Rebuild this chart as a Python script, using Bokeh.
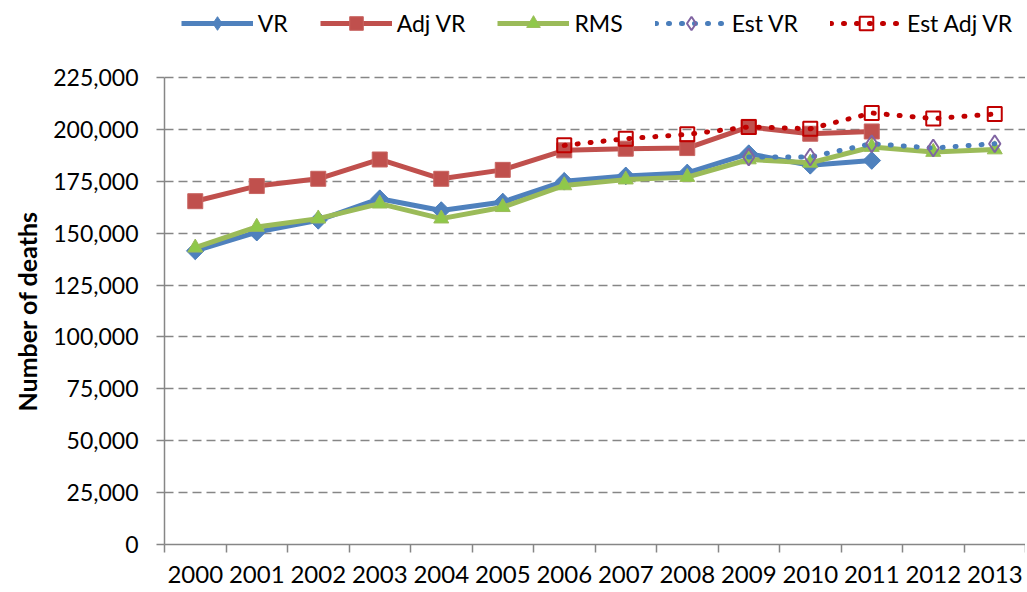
import math
from bokeh.plotting import figure
from bokeh.models import Range1d, FixedTicker, Legend, LegendItem, NumeralTickFormatter, Title
from bokeh.embed import file_html
from bokeh.resources import INLINE

years = list(range(2000, 2014))
vr_years = years[:12]
vr = [141500, 150500, 156200, 166600, 160900, 165000, 175000, 177600, 179000, 188300, 182700, 185000]
adj_vr = [165400, 172700, 176200, 185500, 176200, 180500, 189900, 190700, 191000, 201200, 197900, 199000]
rms = [143000, 153000, 157000, 164200, 157000, 162500, 173000, 175800, 177000, 185500, 183900, 191500, 189100, 190300]
est_vr_years = years[9:]
est_vr = [186700, 186700, 193100, 191000, 193100]
est_adj_years = years[6:]
est_adj_vr = [192300, 195500, 197600, 201200, 200300, 207900, 205200, 207400]
y_ticks = list(range(0, 225001, 25000))
series_names = ["VR", "Adj VR", "RMS", "Est VR", "Est Adj VR"]

FONT = "Lato"
GRAY = "#868686"

W, H = 1025, 590
FRAME_TOP_AXIS = 77     # pixel where the 225,000 gridline sits
BORDER_BOTTOM = 46
frame_h = H - BORDER_BOTTOM
y_max = y_ticks[-1]
y_end = y_max * frame_h / (frame_h - FRAME_TOP_AXIS)   # room above the axis for the legend

p = figure(width=W, height=H, output_backend="svg", toolbar_location=None,
           x_range=Range1d(1999.5, 2013.5), y_range=Range1d(0, y_end),
           min_border_left=164, min_border_right=0, min_border_top=0, min_border_bottom=BORDER_BOTTOM)
p.outline_line_color = None
p.background_fill_color = "white"

# grid
p.xgrid.visible = False
p.ygrid.ticker = FixedTicker(ticks=y_ticks[1:])
p.ygrid.grid_line_color = GRAY
p.ygrid.grid_line_dash = "9 5"
p.ygrid.grid_line_width = 1.5

# x axis
xa = p.xaxis[0]
xa.ticker = FixedTicker(ticks=years, minor_ticks=[y - 0.5 for y in years] + [2013.5])
xa.major_label_overrides = {y: str(y) for y in years}
xa.major_tick_out = 0
xa.major_tick_in = 0
xa.minor_tick_out = 8
xa.minor_tick_in = 0
xa.minor_tick_line_color = GRAY
xa.minor_tick_line_width = 1.5
xa.axis_line_color = GRAY
xa.axis_line_width = 1.5
xa.major_label_text_font = FONT
xa.major_label_text_font_size = "24px"
xa.major_label_text_color = "black"
xa.major_label_standoff = 13

# y axis
ya = p.yaxis[0]
ya.bounds = (0, y_max)
ya.ticker = FixedTicker(ticks=y_ticks)
ya.formatter = NumeralTickFormatter(format="0,0")
ya.major_tick_out = 8
ya.major_tick_in = 0
ya.minor_tick_line_color = None
ya.major_tick_line_color = GRAY
ya.major_tick_line_width = 1.5
ya.axis_line_color = GRAY
ya.axis_line_width = 1.5
ya.major_label_text_font = FONT
ya.major_label_text_font_size = "23px"
ya.major_label_text_color = "black"
ya.major_label_standoff = 18

# y axis title, placed beside the 0..225,000 part of the frame
ytitle = Title(text="Number of deaths", align="left", offset=133, standoff=18,
               text_font=FONT, text_font_style="bold", text_font_size="25px", text_color="black")
p.add_layout(ytitle, "left")

BLUE = "#4F81BD"
RED = "#C0504D"
GREEN = "#9BBB59"
ROT = math.pi / 4

l1 = p.line(vr_years, vr, line_color=BLUE, line_width=5, line_join="round")
# narrow diamond hidden under the rotated square; it supplies the legend swatch
k1 = p.scatter(vr_years, vr, marker="diamond", size=17, fill_color=BLUE, line_color=BLUE, line_width=1)
m1 = p.scatter(vr_years, vr, marker="square", angle=ROT, size=12.5, fill_color=BLUE, line_color=BLUE, line_width=1)

l2 = p.line(years[:12], adj_vr, line_color=RED, line_width=5, line_join="round")
m2 = p.scatter(years[:12], adj_vr, marker="square", size=15, fill_color=RED, line_color="#C86562", line_width=1)

l3 = p.line(years, rms, line_color=GREEN, line_width=5, line_join="round")
m3 = p.scatter(years, rms, marker="triangle", size=15, fill_color="#8FC84A", line_color=GREEN, line_width=1)

l4 = p.line(est_vr_years, est_vr, line_color="#4A7EBB", line_width=5, line_dash="1 12", line_cap="round")
m4 = p.scatter(est_vr_years, est_vr, marker="diamond", size=17, fill_color=None, line_color="#8064A2", line_width=2)

l5 = p.line(est_adj_years, est_adj_vr, line_color="#C00000", line_width=5, line_dash="1 12", line_cap="round")
m5 = p.scatter(est_adj_years, est_adj_vr, marker="square", size=14, fill_color=None, line_color="#C00000", line_width=2)

legend = Legend(items=[
    LegendItem(label=series_names[0], renderers=[l1, k1]),
    LegendItem(label=series_names[1], renderers=[l2, m2]),
    LegendItem(label=series_names[2], renderers=[l3, m3]),
    LegendItem(label=series_names[3], renderers=[l4, m4]),
    LegendItem(label=series_names[4], renderers=[l5, m5]),
], orientation="horizontal", location=(16.7, frame_h - 40))
legend.glyph_width = 72
legend.glyph_height = 34
legend.label_height = 34
legend.label_standoff = 5
legend.spacing = 32
legend.padding = 0
legend.margin = 0
legend.border_line_alpha = 0
legend.background_fill_alpha = 0
legend.label_text_font = FONT
legend.label_text_font_size = "23px"
legend.label_text_color = "black"
p.add_layout(legend, "center")

open("out.html", "w").write(file_html(p, INLINE))
